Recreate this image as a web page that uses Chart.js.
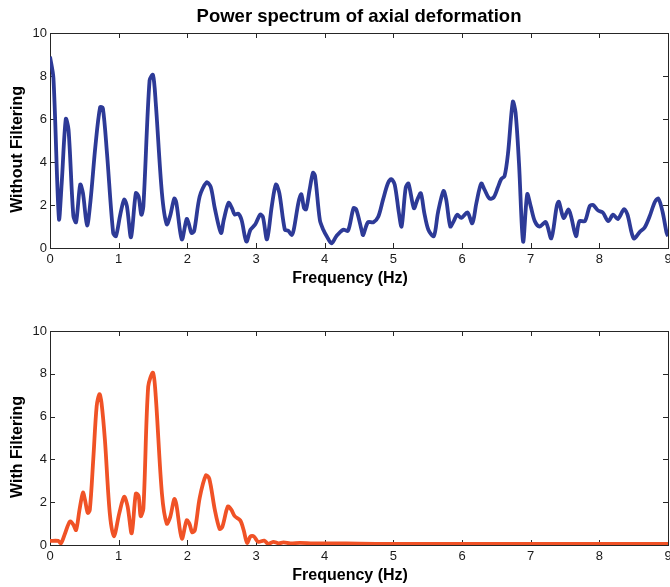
<!DOCTYPE html>
<html>
<head>
<meta charset="utf-8">
<script src="https://cdn.jsdelivr.net/npm/chart.js@4.4.1/dist/chart.umd.min.js"></script>
<style>
  html, body { margin: 0; padding: 0; background: #fff; overflow: hidden; }
  body { width: 670px; height: 587px; position: relative; }
  .panel { position: absolute; left: 0; width: 680px; }
  #top { top: 0; height: 290px; }
  #bottom { top: 298px; height: 289px; }
</style>
</head>
<body>
<div class="panel" id="top"><canvas id="chartTop"></canvas></div>
<div class="panel" id="bottom"><canvas id="chartBottom"></canvas></div>
<script>
// spectrum without filtering (Hz, power)
const freqRaw = [
  0.00, 0.05, 0.13, 0.17, 0.23, 0.27, 0.34, 0.38, 0.44, 0.48, 0.54, 0.59, 0.66, 0.73, 0.77, 0.83,
  0.92, 0.96, 1.02, 1.08, 1.12, 1.18, 1.25, 1.29, 1.33, 1.36, 1.45, 1.50, 1.54, 1.63, 1.70, 1.75,
  1.81, 1.84, 1.92, 1.99, 2.02, 2.06, 2.10, 2.18, 2.28, 2.34, 2.40, 2.49, 2.53, 2.60, 2.65, 2.69,
  2.74, 2.79, 2.86, 2.92, 2.99, 3.06, 3.10, 3.16, 3.23, 3.29, 3.34, 3.42, 3.47, 3.52, 3.55, 3.62,
  3.66, 3.70, 3.73, 3.78, 3.83, 3.86, 3.93, 3.98, 4.03, 4.10, 4.17, 4.27, 4.34, 4.42, 4.46, 4.54,
  4.56, 4.63, 4.71, 4.78, 4.85, 4.92, 4.97, 5.02, 5.08, 5.12, 5.18, 5.22, 5.30, 5.35, 5.40, 5.45,
  5.51, 5.59, 5.65, 5.73, 5.77, 5.83, 5.88, 5.93, 5.99, 6.08, 6.15, 6.21, 6.28, 6.33, 6.40, 6.46,
  6.52, 6.57, 6.62, 6.67, 6.74, 6.78, 6.83, 6.89, 6.95, 7.00, 7.06, 7.13, 7.22, 7.30, 7.38, 7.41,
  7.48, 7.55, 7.59, 7.66, 7.71, 7.79, 7.86, 7.91, 7.98, 8.05, 8.13, 8.20, 8.27, 8.36, 8.41, 8.50,
  8.59, 8.66, 8.73, 8.81, 8.86, 8.92, 8.98, 9.00
];
const powerRaw = [
  8.9, 7.9, 1.35, 3.0, 6.0, 5.5, 1.5, 1.2, 2.95, 2.55, 1.05, 2.2, 4.7, 6.55, 6.5, 4.4,
  0.7, 0.55, 1.5, 2.25, 1.95, 0.5, 2.55, 2.4, 1.55, 1.95, 7.8, 8.05, 6.75, 2.55, 1.1, 1.5,
  2.3, 2.1, 0.4, 1.35, 1.15, 0.7, 0.8, 2.4, 3.05, 2.85, 1.85, 0.7, 1.3, 2.1, 1.85, 1.55,
  1.6, 1.3, 0.3, 0.85, 1.1, 1.55, 1.45, 0.4, 1.95, 2.95, 2.55, 0.85, 0.8, 0.6, 0.85, 2.15,
  2.5, 1.85, 1.8, 2.7, 3.5, 3.35, 1.3, 0.85, 0.55, 0.22, 0.55, 0.85, 0.8, 1.85, 1.8, 0.8,
  0.6, 1.2, 1.2, 1.45, 2.25, 3.0, 3.2, 2.95, 1.65, 1.0, 2.8, 3.0, 1.85, 2.25, 2.55, 1.65,
  0.85, 0.55, 1.65, 2.65, 2.25, 1.0, 1.25, 1.55, 1.4, 1.65, 1.15, 2.1, 3.0, 2.7, 2.3, 2.35,
  2.8, 3.2, 3.35, 4.4, 6.8, 6.3, 3.95, 0.3, 2.5, 1.95, 1.25, 1.0, 1.2, 0.45, 1.95, 2.15,
  1.4, 1.8, 1.45, 0.55, 1.25, 1.25, 1.95, 2.0, 1.75, 1.65, 1.25, 1.55, 1.35, 1.8, 1.55, 0.45,
  0.75, 0.95, 1.45, 2.15, 2.3, 1.7, 0.7, 0.55
];

// spectrum with filtering
const freqFilt = [
  0.00, 0.12, 0.16, 0.22, 0.29, 0.34, 0.38, 0.43, 0.48, 0.51, 0.55, 0.58, 0.63, 0.68, 0.72, 0.75,
  0.80, 0.87, 0.93, 1.01, 1.08, 1.13, 1.19, 1.25, 1.29, 1.32, 1.36, 1.43, 1.50, 1.54, 1.63, 1.70,
  1.75, 1.81, 1.84, 1.92, 1.99, 2.03, 2.07, 2.11, 2.18, 2.27, 2.32, 2.40, 2.47, 2.51, 2.59, 2.64,
  2.69, 2.77, 2.82, 2.87, 2.92, 2.97, 3.03, 3.12, 3.18, 3.25, 3.33, 3.40, 3.50, 3.64, 3.83, 4.13,
  4.5, 5.0, 6.0, 7.0, 8.0, 9.0
];
const powerFilt = [
  0.19, 0.19, 0.08, 0.55, 1.1, 0.95, 0.7, 1.65, 2.45, 2.1, 1.5, 1.65, 4.0, 6.5, 7.05, 6.65,
  4.9, 1.5, 0.4, 1.5, 2.25, 1.8, 0.55, 2.4, 2.3, 1.35, 1.7, 7.4, 8.05, 6.95, 2.4, 1.0,
  1.3, 2.15, 1.9, 0.3, 1.15, 1.0, 0.6, 0.7, 2.2, 3.25, 3.1, 1.65, 0.75, 0.85, 1.8, 1.65,
  1.35, 1.15, 0.7, 0.1, 0.4, 0.4, 0.15, 0.2, 0.05, 0.15, 0.08, 0.12, 0.08, 0.1, 0.08, 0.08,
  0.06, 0.05, 0.05, 0.05, 0.05, 0.05
];

const xTicks = [0, 1, 2, 3, 4, 5, 6, 7, 8, 9];
const yTicks = [0, 2, 4, 6, 8, 10];

const font = "'Liberation Sans', Arial, Helvetica, sans-serif";

// MATLAB style box with inward ticks
const boxPlugin = {
  id: "matlabBox",
  beforeDatasetsDraw(chart) {
    const { ctx, chartArea: a, scales } = chart;
    ctx.save();
    ctx.strokeStyle = "#262626";
    ctx.lineWidth = 1;
    ctx.strokeRect(a.left + 0.5, a.top + 0.5, a.right - a.left, a.bottom - a.top);
    ctx.beginPath();
    xTicks.forEach((v) => {
      const px = Math.round(scales.x.getPixelForValue(v)) + 0.5;
      ctx.moveTo(px, a.bottom); ctx.lineTo(px, a.bottom - 5);
      ctx.moveTo(px, a.top); ctx.lineTo(px, a.top + 5);
    });
    yTicks.forEach((v) => {
      const py = Math.round(scales.y.getPixelForValue(v)) + 0.5;
      ctx.moveTo(a.left, py); ctx.lineTo(a.left + 5, py);
      ctx.moveTo(a.right, py); ctx.lineTo(a.right - 5, py);
    });
    ctx.stroke();
    ctx.restore();
  },
};

function makeChart(id, xs, ys, color, yTitle, withTitle) {
  const points = xs.map((x, i) => ({ x: x, y: ys[i] }));
  return new Chart(document.getElementById(id), {
    type: "line",
    data: {
      datasets: [
        {
          data: points,
          borderColor: color,
          borderWidth: 3.8,
          pointRadius: 0,
          tension: 0.3,
          fill: false,
        },
      ],
    },
    options: {
      responsive: true,
      maintainAspectRatio: false,
      animation: false,
      layout: { padding: { top: withTitle ? 0 : 33, right: 12, bottom: 0, left: 0 } },
      plugins: {
        legend: { display: false },
        tooltip: { enabled: false },
        title: {
          display: withTitle,
          text: "Power spectrum of axial deformation",
          fullSize: false,
          color: "#000",
          font: { family: font, size: 18.5, weight: "bold" },
          padding: { top: 5.5, bottom: 5.3 },
        },
      },
      scales: {
        x: {
          type: "linear",
          min: 0,
          max: 9,
          afterFit: (s) => { s.height = 42; },
          afterBuildTicks: (s) => { s.ticks = xTicks.map((v) => ({ value: v })); },
          grid: { display: false, drawTicks: false },
          border: { display: false },
          ticks: { padding: 4, color: "#1a1a1a", font: { family: font, size: 13 } },
          title: {
            display: true,
            text: "Frequency (Hz)    ",
            color: "#000",
            font: { family: font, size: 16, weight: "bold" },
            padding: { top: 0, bottom: 1.4 },
          },
        },
        y: {
          min: 0,
          max: 10,
          afterFit: (s) => { s.width = 50; },
          afterBuildTicks: (s) => { s.ticks = yTicks.map((v) => ({ value: v })); },
          grid: { display: false, drawTicks: false },
          border: { display: false },
          ticks: { padding: 3, color: "#1a1a1a", font: { family: font, size: 13 } },
          title: {
            display: true,
            text: yTitle,
            color: "#000",
            font: { family: font, size: 16, weight: "bold" },
            padding: { top: 8.4, bottom: 0 },
          },
        },
      },
    },
    plugins: [boxPlugin],
  });
}

makeChart("chartTop", freqRaw, powerRaw, "#2d3a97", "Without Filtering    ", true);
makeChart("chartBottom", freqFilt, powerFilt, "#f05226", "With Filtering    ", false);
</script>
</body>
</html>
